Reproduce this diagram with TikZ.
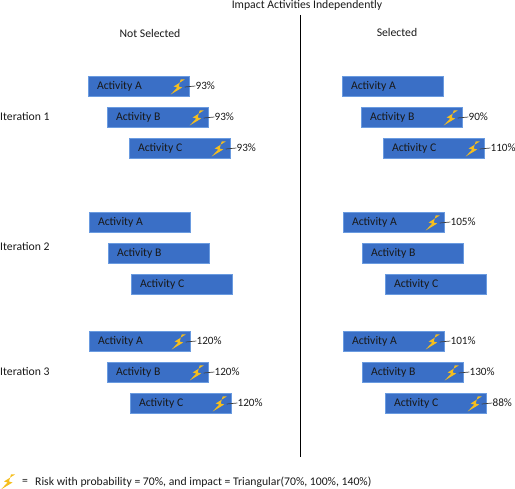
\documentclass[tikz,border=0pt]{standalone}
\usepackage{fontspec}
\setmainfont{Carlito}
\definecolor{barblue}{HTML}{3A6FC6}
\definecolor{baredge}{HTML}{6A9BE0}
\definecolor{boltyellow}{HTML}{F5BE1E}
\tikzset{
  activity/.style={draw=baredge, line width=0.6pt, fill=barblue, minimum width=100.8, minimum height=20, inner sep=0pt},
  lbl/.style={inner sep=0pt, text=black!90, font=\fontsize{11.7}{13}\selectfont},
  pct/.style={lbl, anchor=west, font=\fontsize{11.2}{13}\selectfont},
  bolt/.pic={\fill[boltyellow] (7,-7.5) -- (-4,-0.5) -- (-0.5,0.5) -- (-7,7.5) -- (4.5,0.5) -- (1,-0.5) -- (3,-7.5) -- cycle;}
}
% name, bar, percent
\newcommand{\riskmark}[3]{
  \path (#2.east) ++(-11.5,1) coordinate (#1b) pic {bolt};
  \node[pct] (#1p) at ([xshift=6.2]#2.east) {#3};
  \draw[black!75, line width=0.7pt] ([xshift=7]#1b) -- (#1p.west);
}
\newcommand{\activitybar}[4]{
  \node[activity] (#1) at (#2,#3) {};
  \node[lbl, anchor=west] (#1t) at ([xshift=9]#1.west) {Activity #4};
}
\begin{document}
\begin{tikzpicture}[x=1pt,y=-1pt]
  \useasboundingbox (0,0) rectangle (515,489);

  \node[lbl] (title) at (307,5) {Impact Activities Independently};
  \node[lbl] (notsel) at (150,33) {Not Selected};
  \node[lbl] (sel) at (397,32) {Selected};
  \coordinate (divtop) at (300.5,15);
  \coordinate (divbot) at (300.5,457);
  \draw[black, line width=0.8pt] (divtop) -- (divbot);

  \node[lbl, anchor=west] (iter1) at (0,117) {Iteration 1};
  \node[lbl, anchor=west] (iter2) at (0,247) {Iteration 2};
  \node[lbl, anchor=west] (iter3) at (0,371) {Iteration 3};

  % not selected
  \activitybar{na1}{138.5}{86}{A}
  \activitybar{nb1}{157.5}{117}{B}
  \activitybar{nc1}{179.5}{148}{C}
  \activitybar{na2}{139.5}{222}{A}
  \activitybar{nb2}{158.5}{253}{B}
  \activitybar{nc2}{181.5}{284}{C}
  \activitybar{na3}{139.5}{341}{A}
  \activitybar{nb3}{157.5}{372}{B}
  \activitybar{nc3}{180.5}{403}{C}

  % selected
  \activitybar{sa1}{392.5}{86}{A}
  \activitybar{sb1}{411.5}{117}{B}
  \activitybar{sc1}{433.5}{148}{C}
  \activitybar{sa2}{393.5}{222}{A}
  \activitybar{sb2}{412.5}{253}{B}
  \activitybar{sc2}{435.5}{284}{C}
  \activitybar{sa3}{393.5}{341}{A}
  \activitybar{sb3}{412.5}{372}{B}
  \activitybar{sc3}{435.5}{403}{C}

  \riskmark{r1}{na1}{93\%}
  \riskmark{r2}{nb1}{93\%}
  \riskmark{r3}{nc1}{93\%}
  \riskmark{r4}{na3}{120\%}
  \riskmark{r5}{nb3}{120\%}
  \riskmark{r6}{nc3}{120\%}
  \riskmark{r7}{sb1}{90\%}
  \riskmark{r8}{sc1}{110\%}
  \riskmark{r9}{sa2}{105\%}
  \riskmark{r10}{sa3}{101\%}
  \riskmark{r11}{sb3}{130\%}
  \riskmark{r12}{sc3}{88\%}

  % legend
  \pic at (8,482) {bolt};
  \node[lbl, anchor=west] (eq) at (22,482) {=};
  \node[lbl, anchor=west] (legend) at (35,482) {Risk with probability = 70\%, and impact = Triangular(70\%, 100\%, 140\%)};
\end{tikzpicture}
\end{document}
